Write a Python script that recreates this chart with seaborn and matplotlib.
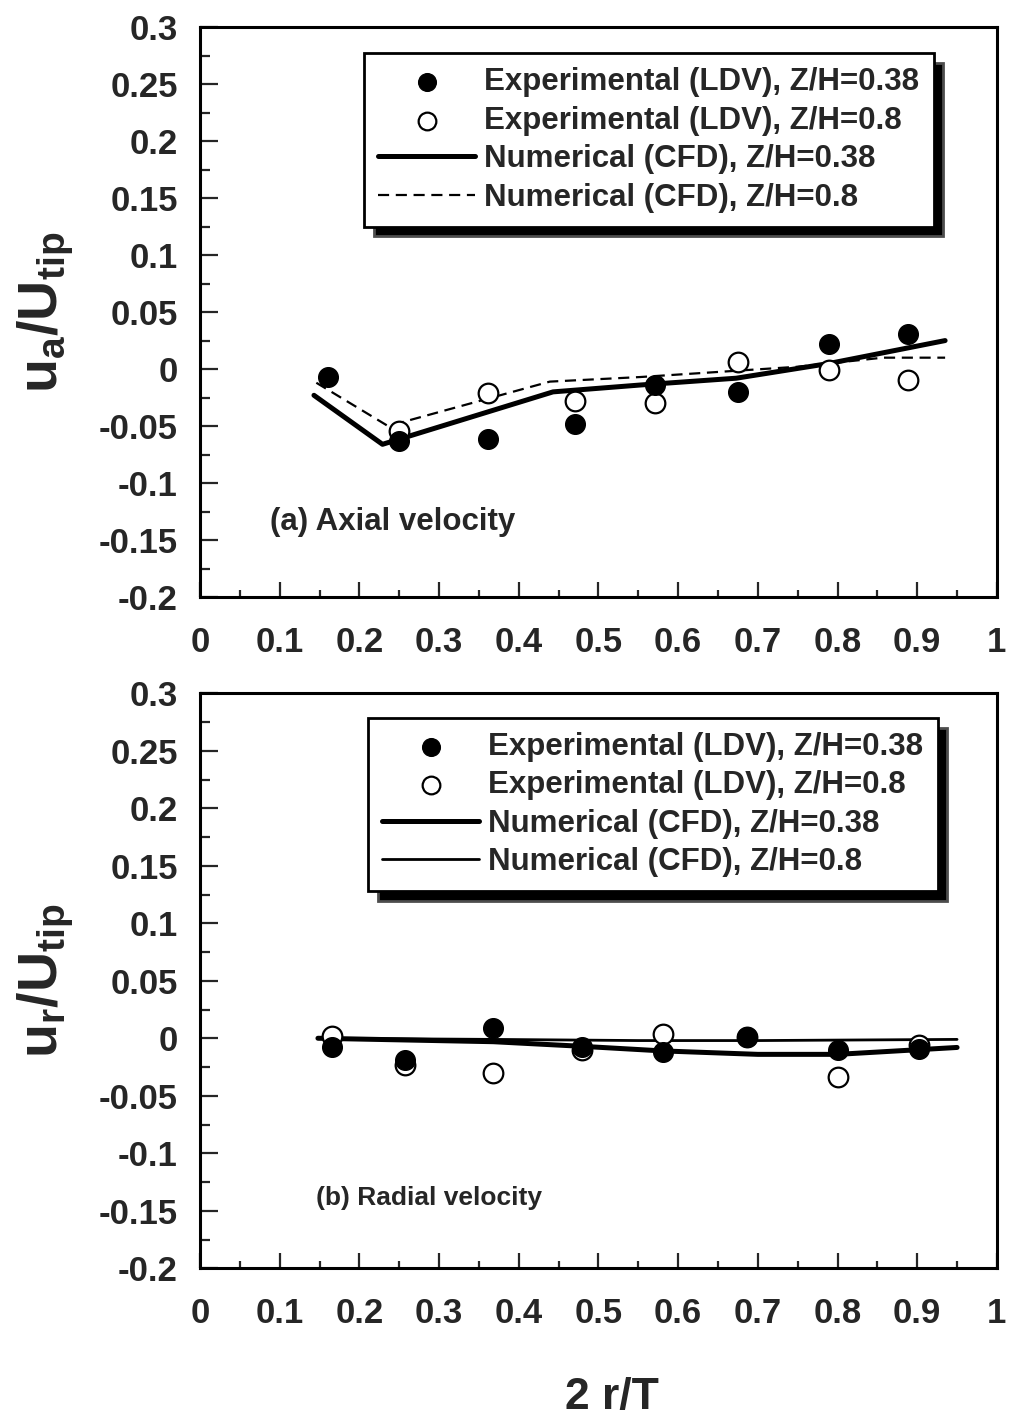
import numpy as np
import pandas as pd
import matplotlib
matplotlib.use('Agg')
import matplotlib.pyplot as plt
import seaborn as sns
from matplotlib.ticker import MultipleLocator, FuncFormatter

# ---------------- data ----------------
axial_exp_038_x = [0.161, 0.250, 0.361, 0.470, 0.571, 0.675, 0.789, 0.888]
axial_exp_038 = [-0.007, -0.063, -0.061, -0.048, -0.014, -0.020, 0.022, 0.031]
axial_exp_08_x = [0.250, 0.361, 0.470, 0.571, 0.675, 0.789, 0.888]
axial_exp_08 = [-0.054, -0.021, -0.028, -0.030, 0.006, -0.001, -0.010]
axial_cfd_038_x = [0.143, 0.229, 0.443, 0.552, 0.673, 0.790, 0.935]
axial_cfd_038 = [-0.023, -0.066, -0.020, -0.014, -0.008, 0.005, 0.025]
axial_cfd_08_x = [0.146, 0.236, 0.439, 0.552, 0.749, 0.857, 0.935]
axial_cfd_08 = [-0.012, -0.050, -0.011, -0.007, 0.002, 0.010, 0.010]

radial_exp_x = [0.166, 0.257, 0.368, 0.479, 0.581, 0.686, 0.800, 0.902]
radial_exp_038 = [-0.008, -0.019, 0.009, -0.008, -0.012, 0.001, -0.010, -0.009]
radial_exp_08 = [0.002, -0.023, -0.030, -0.010, 0.004, 0.001, -0.034, -0.006]
radial_cfd_038_x = [0.148, 0.368, 0.479, 0.580, 0.700, 0.800, 0.900, 0.950]
radial_cfd_038 = [0.000, -0.003, -0.007, -0.011, -0.014, -0.014, -0.010, -0.008]
radial_cfd_08_x = [0.148, 0.368, 0.550, 0.700, 0.950]
radial_cfd_08 = [0.000, -0.001, -0.002, -0.002, -0.001]

labels = ["Experimental (LDV), Z/H=0.38", "Experimental (LDV), Z/H=0.8",
          "Numerical (CFD), Z/H=0.38", "Numerical (CFD), Z/H=0.8"]
x_ticks = [0, 0.1, 0.2, 0.3, 0.4, 0.5, 0.6, 0.7, 0.8, 0.9, 1]
y_ticks = [-0.2, -0.15, -0.1, -0.05, 0, 0.05, 0.1, 0.15, 0.2, 0.25, 0.3]

# ---------------- style ----------------
sns.set_theme(style='ticks')
plt.rcParams['font.family'] = ['Liberation Sans', 'DejaVu Sans']
plt.rcParams['font.weight'] = 'bold'
plt.rcParams['axes.unicode_minus'] = False
plt.rcParams['mathtext.fontset'] = 'custom'
plt.rcParams['mathtext.rm'] = 'Liberation Sans:bold'
plt.rcParams['mathtext.bf'] = 'Liberation Sans:bold'
plt.rcParams['mathtext.it'] = 'Liberation Sans:bold'

fig = plt.figure(figsize=(10.23, 14.25), dpi=100)
ax1 = fig.add_axes([0.1955, 0.581, 0.779, 0.400])
ax2 = fig.add_axes([0.1955, 0.110, 0.779, 0.4035])


def draw(ax, ex1x, ex1, ex2x, ex2, c1x, c1, c2x, c2, second_ls, second_lw,
         ylabel, note, note_xy, note_size, leg_anchor):
    d_c1 = pd.DataFrame({'x': c1x, 'y': c1})
    d_c2 = pd.DataFrame({'x': c2x, 'y': c2})
    d_e1 = pd.DataFrame({'x': ex1x, 'y': ex1})
    d_e2 = pd.DataFrame({'x': ex2x, 'y': ex2})
    sns.lineplot(data=d_c2, x='x', y='y', ax=ax, color='black', lw=second_lw,
                 linestyle=second_ls, label=labels[3], sort=False, zorder=2)
    sns.lineplot(data=d_c1, x='x', y='y', ax=ax, color='black', lw=3.6,
                 label=labels[2], sort=False, zorder=3)
    sns.scatterplot(data=d_e2, x='x', y='y', ax=ax, color='white',
                    edgecolor='black', linewidth=1.6, s=200, label=labels[1],
                    zorder=4)
    sns.scatterplot(data=d_e1, x='x', y='y', ax=ax, color='black',
                    edgecolor='black', linewidth=1.0, s=200, label=labels[0],
                    zorder=5)
    ax.set_xlim(0, 1)
    ax.set_ylim(-0.2, 0.3)
    ax.set_xticks(x_ticks)
    ax.set_yticks(y_ticks)
    ax.xaxis.set_minor_locator(MultipleLocator(0.05))
    ax.yaxis.set_minor_locator(MultipleLocator(0.025))
    fmt = FuncFormatter(lambda v, p: ('%g' % round(v, 3)))
    ax.xaxis.set_major_formatter(fmt)
    ax.yaxis.set_major_formatter(fmt)
    ax.tick_params(axis='both', which='both', direction='in', width=1.6,
                   top=False, right=False)
    ax.tick_params(axis='y', which='major', length=13, pad=16, labelsize=25)
    ax.tick_params(axis='y', which='minor', length=7)
    ax.tick_params(axis='x', which='major', length=11, pad=21, labelsize=25)
    ax.tick_params(axis='x', which='minor', length=5)
    for lab in ax.get_xticklabels() + ax.get_yticklabels():
        lab.set_fontweight('bold')
    for sp in ax.spines.values():
        sp.set_linewidth(2.2)
        sp.set_color('black')
        sp.set_visible(True)
    ax.set_xlabel('')
    ax.set_ylabel(ylabel, fontsize=40)
    ax.yaxis.set_label_coords(-0.155, 0.5)
    ax.text(note_xy[0], note_xy[1], note, transform=ax.transAxes,
            fontsize=note_size, fontweight='bold', va='center', ha='left')
    h, l = ax.get_legend_handles_labels()
    order = [l.index(s) for s in labels]
    leg = ax.legend([h[i] for i in order], [l[i] for i in order],
                    loc='upper left', bbox_to_anchor=leg_anchor,
                    borderaxespad=0, frameon=True, fancybox=False,
                    edgecolor='black', framealpha=1,
                    shadow={'ox': 7, 'oy': -7, 'facecolor': 'black', 'alpha': 1},
                    prop={'size': 22.5, 'weight': 'bold'},
                    handlelength=3.1, handletextpad=0.3, labelspacing=0.27,
                    borderpad=0.45, markerscale=0.9)
    leg.get_frame().set_linewidth(2.0)
    leg.set_zorder(10)


draw(ax1, axial_exp_038_x, axial_exp_038, axial_exp_08_x, axial_exp_08,
     axial_cfd_038_x, axial_cfd_038, axial_cfd_08_x, axial_cfd_08,
     (0, (5, 3)), 1.6, r'$\mathbf{u_a/U_{tip}}$', '(a) Axial velocity',
     (0.088, 0.132), 22.5, (0.206, 0.954))
draw(ax2, radial_exp_x, radial_exp_038, radial_exp_x, radial_exp_08,
     radial_cfd_038_x, radial_cfd_038, radial_cfd_08_x, radial_cfd_08,
     '-', 2.0, r'$\mathbf{u_r/U_{tip}}$', '(b) Radial velocity',
     (0.146, 0.123), 19, (0.211, 0.957))

fig.text(0.598, 0.019, '2 r/T', fontsize=32, fontweight='bold',
         ha='center', va='center')

fig.savefig('out.png', dpi=100)
